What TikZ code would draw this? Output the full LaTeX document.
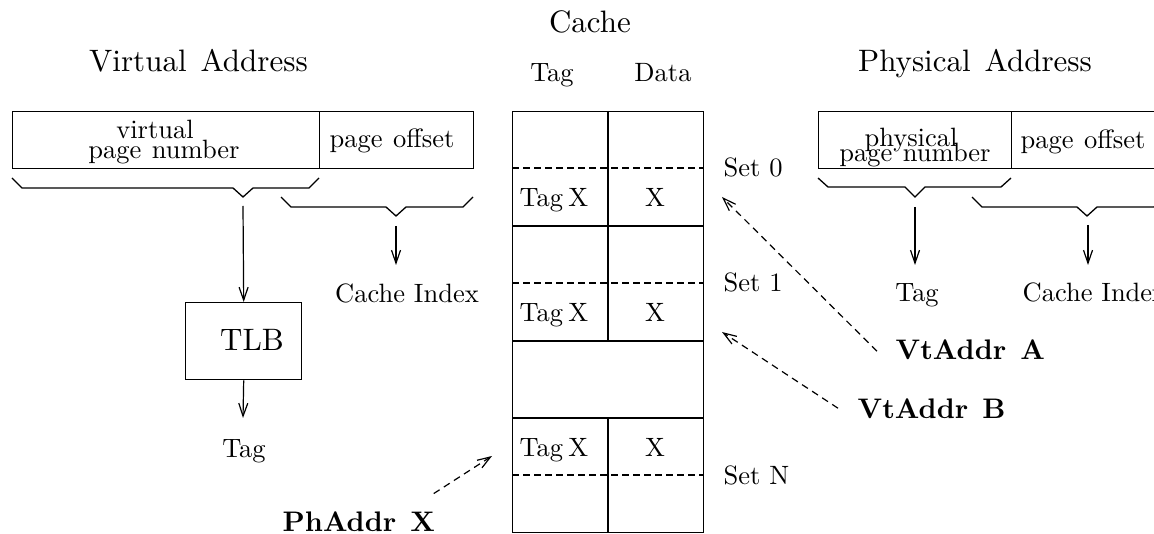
\documentclass[tikz,border=0pt]{standalone}
\usepackage{fontspec}
\setmainfont{lmroman10-regular.otf}[BoldFont=lmroman10-bold.otf]
\usetikzlibrary{arrows.meta,calc}
\begin{document}
\begin{tikzpicture}[x=1pt,y=-1pt,
  line width=1.4pt,
  box/.style={draw, line width=1.4pt, inner sep=0pt, anchor=north west},
  sm/.style={font=\fontsize{26.5}{19}\selectfont, inner sep=0pt, anchor=base},
  big/.style={font=\fontsize{31}{30}\selectfont, inner sep=0pt, anchor=base},
  bld/.style={font=\fontsize{28.3}{30}\selectfont\bfseries, inner sep=0pt, anchor=base west},
  arr/.style={-{Straight Barb[length=13pt,width=9pt,line width=1.2pt]}, line width=1.2pt},
  darr/.style={arr, dash pattern=on 7pt off 5pt},
  dsh/.style={dash pattern=on 7pt off 4pt},
  brace/.style={line width=1.3pt, line join=miter},
]
\path[use as bounding box, clip] (0,0) rectangle (1154,534);

% ---------- titles ----------
\node[big] (vat) at (198.5,72) {Virtual\hspace{0.45em}Address};
\node[big] (pat) at (975,72) {Physical\hspace{0.45em}Address};
\node[big] (cat) at (590,33) {Cache};
\node[sm] (ctag) at (552,82) {Tag};
\node[sm] (cdat) at (663,82) {Data};

% ---------- virtual address ----------
\node[box, minimum width=307pt, minimum height=57pt] (vpn) at (12,111) {};
\node[box, minimum width=154pt, minimum height=57pt] (vpo) at (319,111) {};
\node[sm] (vpn1) at (155,139) {virtual};
\node[sm] (vpn2) at (164,159) {page\hspace{0.4em}number};
\node[sm] (vpo1) at (392,148) {page\hspace{0.4em}offset};

\draw[brace] (12,178) -- (22,188) -- (233,188) -- (243,197) -- (253,188) -- (309,188) -- (319,178);
\draw[brace] (281,197) -- (291,207) -- (386,207) -- (396,216) -- (406,207) -- (463,207) -- (473,197);

\coordinate (vb1) at (243,206);
\coordinate (vb2) at (396,226);
\coordinate (vci) at (396,265);
\coordinate (vtg) at (243,418);

\node[box, minimum width=116pt, minimum height=77pt] (tlb) at (185,302) {};
\node[big] (tlbt) at (252,351) {TLB};
\draw[arr] (vb1) -- (tlb.north);
\draw[arr] (tlb.south) -- (vtg);
\node[sm] (vtag) at (244,457) {Tag};
\draw[arr] (vb2) -- (vci);
\node[sm] (vcil) at (407,303) {Cache Index};

% ---------- physical address ----------
\node[box, minimum width=193pt, minimum height=57pt] (ppn) at (818,111) {};
\node[box, minimum width=155pt, minimum height=57pt] (ppo) at (1011,111) {};
\node[sm] (ppn1) at (911,147) {physical};
\node[sm] (ppn2) at (915,162) {page\hspace{0.4em}number};
\node[sm] (ppo1) at (1083,149) {page\hspace{0.4em}offset};

\draw[brace] (818,178) -- (828,187) -- (905,187) -- (915,197) -- (925,187) -- (1001,187) -- (1011,178);
\draw[brace] (972,197) -- (982,207) -- (1077,207) -- (1087,216) -- (1097,207) -- (1154,207) -- (1164,197);

\coordinate (pb1) at (915,207);
\coordinate (pb2) at (1088,225);
\coordinate (ptg) at (915,265);
\coordinate (pci) at (1088,265);
\draw[arr] (pb1) -- (ptg);
\draw[arr] (pb2) -- (pci);
\node[sm] (ptag) at (917,302) {Tag};
\node[sm, anchor=base west] (pcil) at (1022,302) {Cache Index};

% ---------- cache ----------
\node[box, minimum width=191pt, minimum height=421pt] (cache) at (512,111) {};
\draw (608,111) -- (608,341);
\draw (608,418) -- (608,532);
\draw (512,226) -- (703,226);
\draw (512,341) -- (703,341);
\draw (512,418) -- (703,418);
\draw[dsh] (512,168) -- (703,168);
\draw[dsh] (512,283) -- (703,283);
\draw[dsh] (512,475) -- (703,475);

\node[sm] (t0) at (554,207) {Tag\hspace{0.2em}X};
\node[sm] (x0) at (655,207) {X};
\node[sm] (t1) at (554,322) {Tag\hspace{0.2em}X};
\node[sm] (x1) at (655,322) {X};
\node[sm] (tn) at (554,456) {Tag\hspace{0.2em}X};
\node[sm] (xn) at (655,456) {X};

\node[sm, anchor=base west] (s0) at (723,177) {Set 0};
\node[sm, anchor=base west] (s1) at (723,292) {Set 1};
\node[sm, anchor=base west] (sn) at (723,484) {Set N};

% ---------- addresses ----------
\node[bld] (va) at (895,360) {VtAddr\hspace{0.5em}A};
\node[bld] (vb) at (857,418) {VtAddr\hspace{0.5em}B};
\node[bld] (ph) at (282,531) {PhAddr\hspace{0.5em}X};

\coordinate (tA) at (722,197);
\coordinate (tB) at (722,332);
\coordinate (tP) at (492,456);
\draw[darr] ($(va.west)+(-18,1)$) -- (tA);
\draw[darr] ($(vb.west)+(-19,0)$) -- (tB);
\draw[darr] ($(ph.north east)+(-2,-17)$) -- (tP);
\end{tikzpicture}
\end{document}
